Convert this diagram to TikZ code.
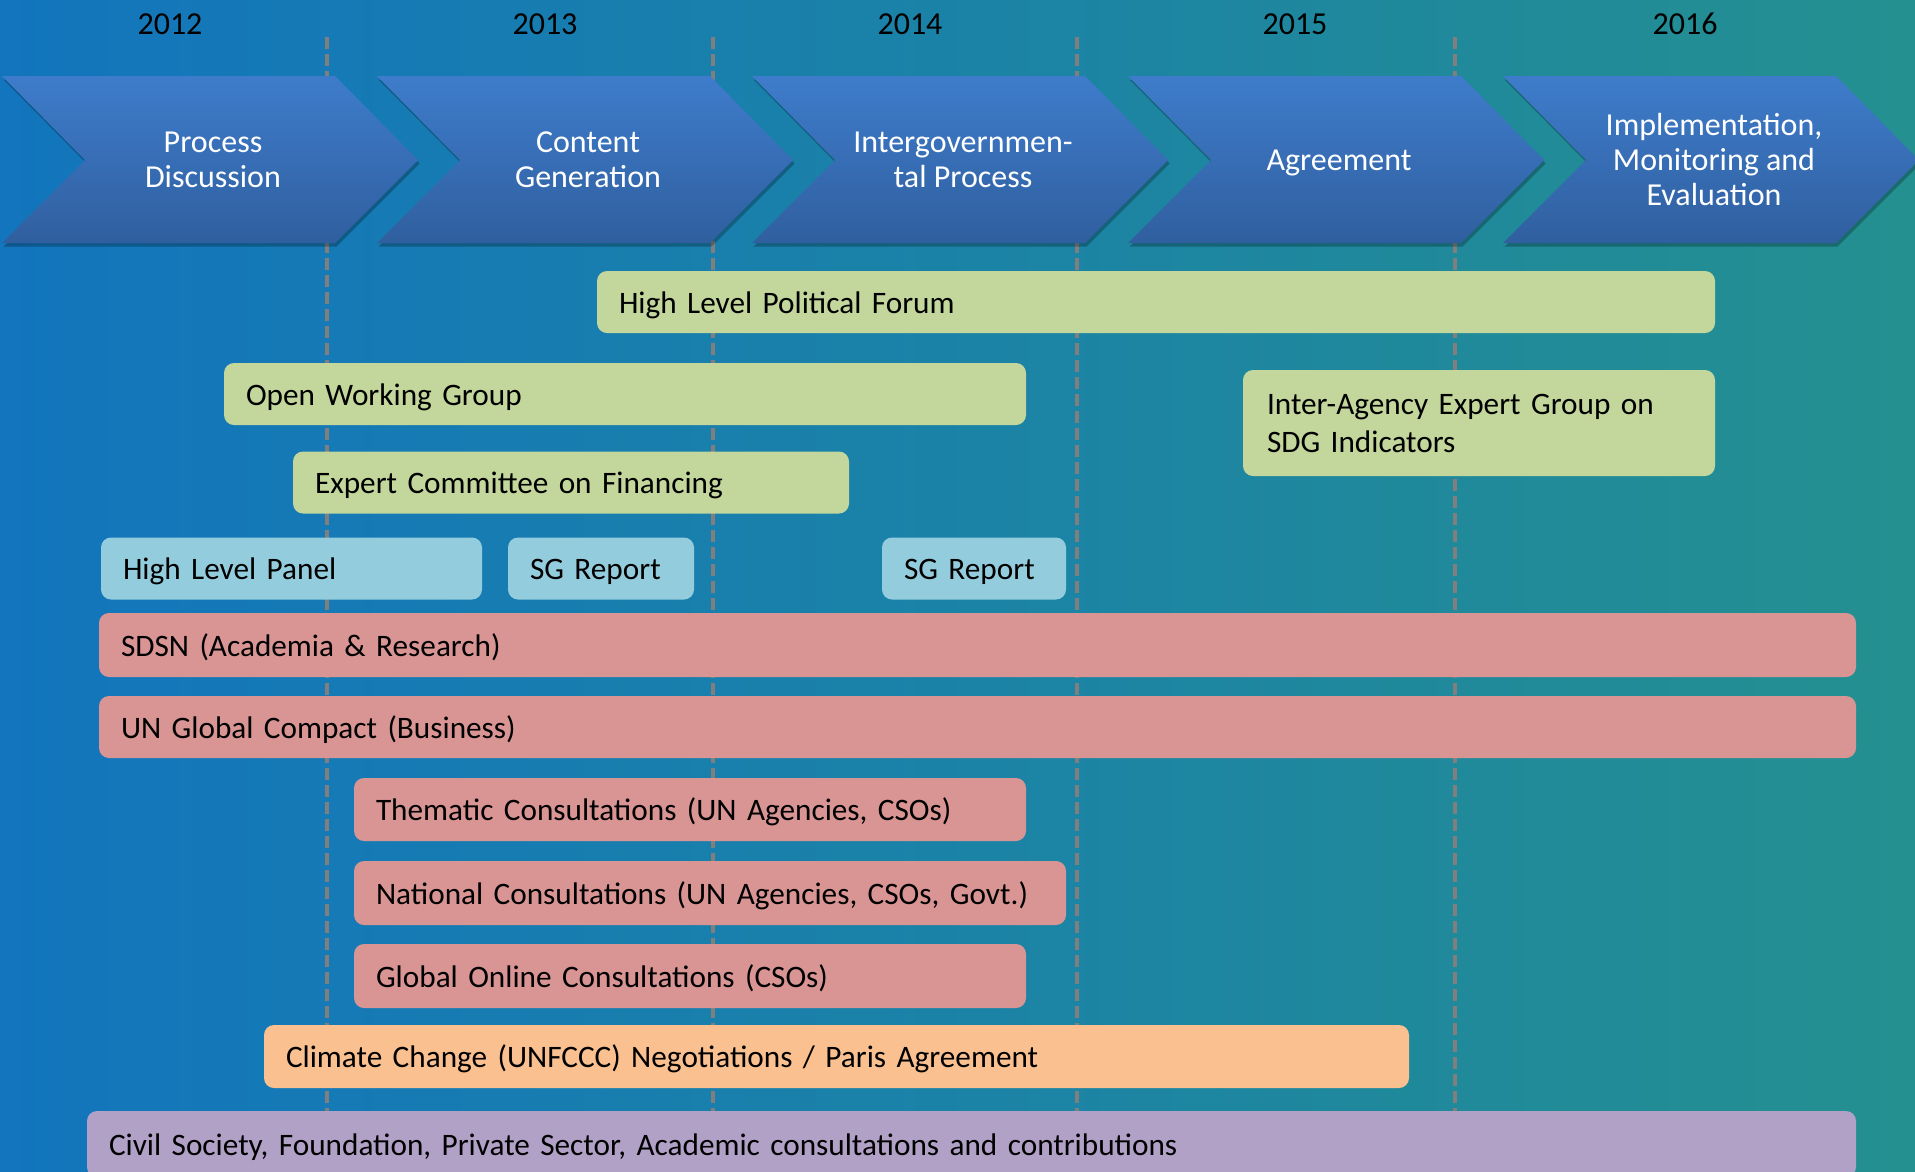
\documentclass[tikz,border=0pt]{standalone}
\usepackage{fontspec}
\setmainfont{Carlito}
\usetikzlibrary{shadows}
\definecolor{bgL}{HTML}{1275BD}
\definecolor{bgM}{HTML}{1982AE}
\definecolor{bgR}{HTML}{249090}
\definecolor{chevT}{HTML}{3E7CCB}
\definecolor{chevB}{HTML}{305F9F}
\definecolor{gridc}{HTML}{7F7F7F}
\definecolor{gfill}{HTML}{C3D69B}
\definecolor{bfill}{HTML}{93CDDD}
\definecolor{pfill}{HTML}{D99594}
\definecolor{ofill}{HTML}{FAC090}
\definecolor{vfill}{HTML}{B2A1C7}
\tikzset{
  bartxt/.style={font=\fontsize{31.25}{38}\selectfont},
  anybox/.style={rectangle, rounded corners=10pt, inner xsep=22pt, inner ysep=0pt,
    minimum height=62pt, align=left, text=black, bartxt,
    text height=22.6pt, text depth=0pt},
  gbox/.style={anybox, fill=gfill},
  bbox/.style={anybox, fill=bfill},
  pbox/.style={anybox, fill=pfill},
  obox/.style={anybox, fill=ofill},
  vbox/.style={anybox, fill=vfill},
  chev/.style={top color=chevT, bottom color=chevB, draw=none,
    drop shadow={shadow xshift=1.5pt, shadow yshift=-3.5pt, opacity=0.25, fill=black}},
  chevtxt/.style={text=white, align=center, font=\fontsize{32}{35}\selectfont},
  yeartxt/.style={text=black, font=\fontsize{32}{36}\selectfont},
  gridline/.style={draw=gridc, line width=3.5pt, dash pattern=on 12pt off 5pt},
}
\begin{document}
\begin{tikzpicture}[x=1pt,y=-1pt]
\useasboundingbox (0,0) rectangle (1915,1171);
\clip (0,0) rectangle (1915,1171);
% background
\shade[left color=bgL, middle color=bgM, right color=bgR] (0,0) rectangle (1915,1171);
% year grid lines
\foreach \gx/\gn in {327/g1, 713/g2, 1077/g3, 1455/g4} {
  \coordinate (\gn t) at (\gx,37);
  \coordinate (\gn b) at (\gx,1111);
  \draw[gridline] (\gn t) -- (\gn b);
}
% years
\node[yeartxt] (y2012) at (170,24) {2012};
\node[yeartxt] (y2013) at (545,24) {2013};
\node[yeartxt] (y2014) at (910,24) {2014};
\node[yeartxt] (y2015) at (1295,24) {2015};
\node[yeartxt] (y2016) at (1685,24) {2016};
% chevrons
\foreach \s in {2,377,752,1128,1503} {
  \path[chev] (\s,76) -- ++(333,0) -- ++(83,84) -- ++(-83,83) -- ++(-333,0) -- ++(83,-83) -- cycle;
}
\node[chevtxt] (c1) at (213,160) {Process\\Discussion};
\node[chevtxt] (c2) at (588,160) {Content\\Generation};
\node[chevtxt] (c3) at (963,160) {Intergovernmen-\\tal Process};
\node[chevtxt, text height=21pt, text depth=0pt] (c4) at (1339,159.5) {Agreement};
\node[chevtxt] (c5) at (1714,160) {Implementation,\\Monitoring and\\Evaluation};
% bars
\node[gbox, text width=1074pt] (hlpf) at (1156,302) {High Level Political Forum};
\node[gbox, text width=758pt] (owg) at (625,394) {Open Working Group};
\node[gbox, text width=424pt, minimum height=106pt, inner xsep=24pt, text height={}, text depth={}] (iaeg) at (1479,423) {Inter-Agency Expert Group on\\SDG Indicators};
\node[gbox, text width=512pt] (ecf) at (571,482.5) {Expert Committee on Financing};
\node[bbox, text width=337pt] (hlp) at (291.5,568.5) {High Level Panel};
\node[bbox, text width=142pt] (sg1) at (601,568.5) {SG Report};
\node[bbox, text width=140pt] (sg2) at (974,568.5) {SG Report};
\node[pbox, text width=1713pt, minimum height=64pt] (sdsn) at (977.5,645) {SDSN (Academia \& Research)};
\node[pbox, text width=1713pt] (ungc) at (977.5,727) {UN Global Compact (Business)};
\node[pbox, text width=628pt, minimum height=63pt] (them) at (690,809.5) {Thematic Consultations (UN Agencies, CSOs)};
\node[pbox, text width=668pt, minimum height=64pt] (natl) at (710,893) {National Consultations (UN Agencies, CSOs, Govt.)};
\node[pbox, text width=628pt, minimum height=64pt] (glob) at (690,976) {Global Online Consultations (CSOs)};
\node[obox, text width=1101pt, minimum height=63pt] (clim) at (836.5,1056.5) {Climate Change (UNFCCC) Negotiations / Paris Agreement};
\node[vbox, text width=1725pt, minimum height=66pt] (civ) at (971.5,1144) {Civil Society, Foundation, Private Sector, Academic consultations and contributions};
\end{tikzpicture}
\end{document}
